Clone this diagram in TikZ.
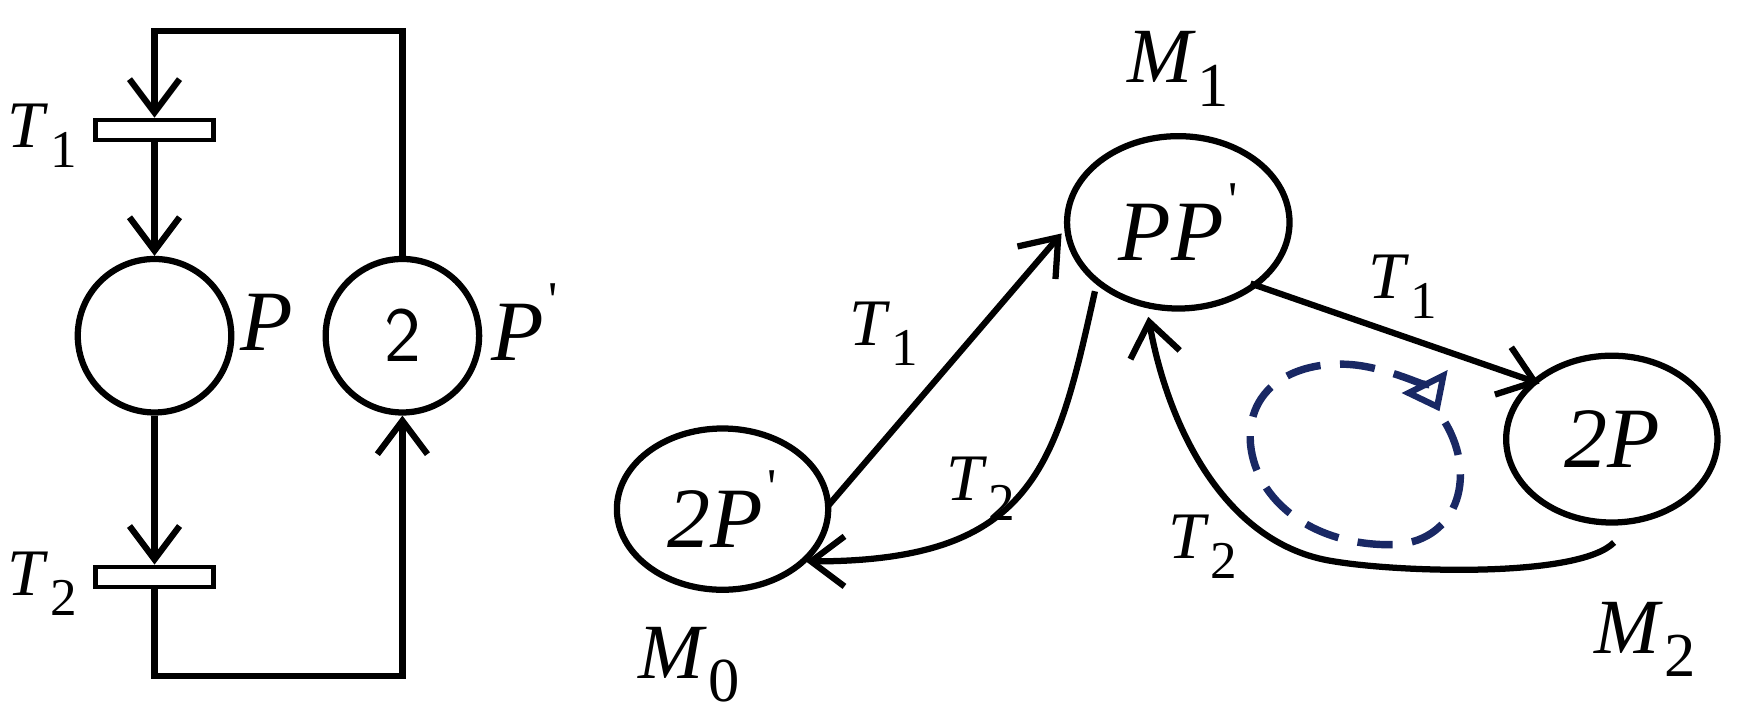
\documentclass[tikz,border=0pt]{standalone}
\usepackage{fontspec}
\setmainfont{Liberation Serif}
\usetikzlibrary{arrows.meta,shapes.geometric}
\newcommand{\sbl}[2]{\textit{#1}\kern0.02em\raisebox{-0.3em}{\scalebox{0.8}{#2}}}
\newcommand{\prm}{\kern0.05em\raisebox{0.5em}{\scalebox{0.6}{\upshape\textquotesingle}}}
\begin{document}
\begin{tikzpicture}[x=0.01cm,y=-0.01cm,
  line width=1.6pt,
  arr/.style={-{Straight Barb[length=3mm,width=4.5mm,line width=1.6pt]}},
  trans/.style={draw,rectangle,minimum width=1.06cm,minimum height=0.18cm,inner sep=0pt,line width=1.2pt},
  lab/.style={font=\fontsize{17}{20}\selectfont,inner sep=0pt},
  big/.style={font=\fontsize{22}{26}\selectfont\itshape}]
\useasboundingbox (0,0) rectangle (1568,650);
% left net
\node[trans] (t1) at (139,117) {};
\node[trans] (t2) at (139,519) {};
\node[draw,circle,minimum size=1.38cm,inner sep=0pt] (p) at (139,302) {};
\node[draw,circle,minimum size=1.38cm,inner sep=0pt] (pp) at (362,302) {\fontsize{20}{24}\selectfont\sffamily 2};
\coordinate (c1) at (139,28); \coordinate (c2) at (362,28);
\coordinate (c3) at (139,608); \coordinate (c4) at (362,608);
\draw[arr] (pp.north) -- (c2) -- (c1) -- (t1.north);
\draw[arr] (t1.south) -- (p.north);
\draw[arr] (p.south) -- (t2.north);
\draw[arr] (t2.south) -- (c3) -- (c4) -- (pp.south);
\node[lab] (lt1) at (38,122) {\sbl{T}{1}};
\node[lab] (lt2) at (38,525) {\sbl{T}{2}};
\node[big] (lp) at (240,290) {P};
\node[big] (lpp) at (472,290) {P\prm};
% right graph
\node[draw,ellipse,minimum width=1.9cm,minimum height=1.45cm,inner sep=0pt,big] (m0) at (650,458) {2P\prm};
\node[draw,ellipse,minimum width=2.0cm,minimum height=1.55cm,inner sep=0pt,big] (m1) at (1060,200) {PP\prm};
\node[draw,ellipse,minimum width=1.9cm,minimum height=1.5cm,inner sep=0pt,big] (m2) at (1450,395) {2P};
\node[lab,font=\fontsize{20}{24}\selectfont] (lm1) at (1060,62) {\sbl{M}{1}};
\node[lab,font=\fontsize{20}{24}\selectfont] (lm0) at (620,598) {\sbl{M}{0}};
\node[lab,font=\fontsize{20}{24}\selectfont] (lm2) at (1480,575) {\sbl{M}{2}};
\coordinate (a0) at (745,455); \coordinate (a1) at (955,210);
\draw[arr] (a0) -- (a1);
\node[lab] (l01) at (795,300) {\sbl{T}{1}};
\coordinate (b0) at (985,262); \coordinate (b1) at (725,505);
\draw[arr] (b0) .. controls (950,420) and (930,505) .. (b1);
\node[lab] (l10) at (882,440) {\sbl{T}{2}};
\coordinate (d0) at (1125,255); \coordinate (d1) at (1385,345);
\draw[arr] (d0) -- (d1);
\node[lab] (l12) at (1262,258) {\sbl{T}{1}};
\coordinate (e0) at (1452,488); \coordinate (e1) at (1033,285);
\draw[arr] (e0) .. controls (1420,520) and (1260,515) .. (1200,505) .. controls (1100,490) and (1050,380) .. (e1);
\node[lab] (l21) at (1082,492) {\sbl{T}{2}};
\definecolor{navy}{RGB}{25,40,100}
\draw[navy,line width=1.9pt,dash pattern=on 9pt off 5pt,-{Triangle[open,length=3mm,width=4.5mm,line width=1.6pt]}]
  (1300,380) .. controls (1330,430) and (1310,490) .. (1250,490) .. controls (1180,490) and (1130,450) .. (1125,400)
  .. controls (1120,340) and (1180,320) .. (1230,330) .. controls (1265,337) and (1285,350) .. (1295,370);
\end{tikzpicture}
\end{document}
